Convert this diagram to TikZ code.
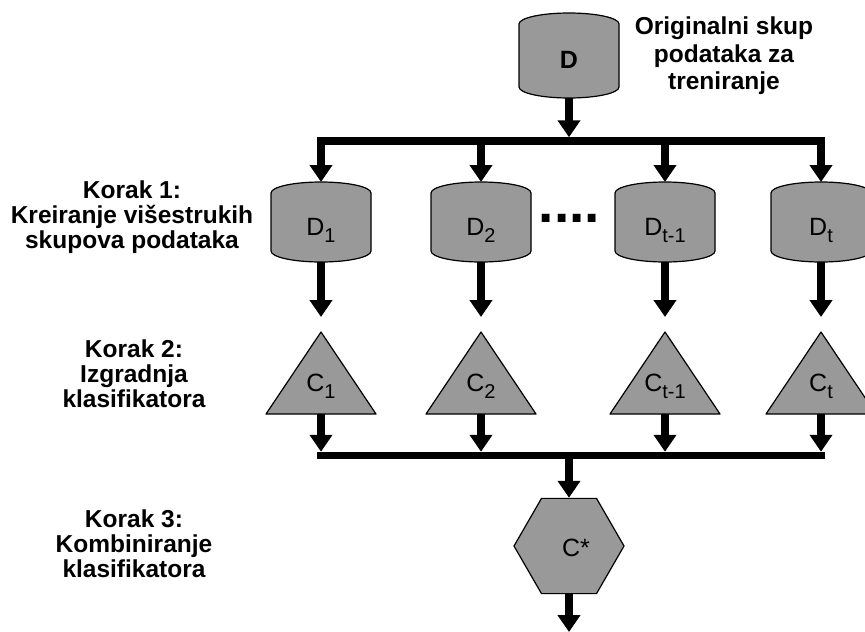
\documentclass[tikz,border=0pt]{standalone}
\usepackage{fontspec}
\setmainfont{Liberation Sans}
\usetikzlibrary{arrows.meta,shapes.geometric}

\tikzset{
  shapefill/.style={fill=black!40, draw=black, line width=1.2pt, line join=round},
  flow/.style={line width=7.5pt, -{Triangle[width=22pt,length=17pt]}},
  bus/.style={line width=7.5pt, line cap=rect},
  steplabel/.style={font=\fontsize{24.5}{25}\selectfont\bfseries, align=center, inner sep=0pt},
  itemlabel/.style={font=\fontsize{25}{25}\selectfont, inner sep=0pt},
  hexa/.style={regular polygon, regular polygon sides=6, minimum size=110pt, inner sep=0pt, shapefill}
}

% lowered index, a bit smaller than the letter
\newcommand\lowidx[1]{\raisebox{-7pt}{\fontsize{20}{20}\selectfont #1}}

% data set drum: name, x, rim top y, rim bottom y, text baseline y, text
\newcommand\drum[6]{%
  \filldraw[shapefill] (#2-50,#3) arc[start angle=180,end angle=0,x radius=50pt,y radius=11pt]
    -- (#2+50,#4) arc[start angle=0,end angle=-180,x radius=50pt,y radius=11pt] -- cycle;
  \coordinate (#1-top) at (#2,#3-11);
  \coordinate (#1-bot) at (#2,#4+11);
  \node[itemlabel,anchor=base] (#1) at (#2,#5) {#6};
}

% classifier wedge: name, x, text
\newcommand\wedgeshape[3]{%
  \filldraw[shapefill] (#2-55,414) -- (#2,332) -- (#2+55,414) -- cycle;
  \coordinate (#1-top) at (#2,332);
  \coordinate (#1-bot) at (#2,414);
  \node[itemlabel,anchor=base] (#1) at (#2,391) {#3};
}

\begin{document}
\begin{tikzpicture}[x=1pt,y=-1pt]
\useasboundingbox (0,0) rectangle (865,632);
\clip (0,0) rectangle (865,632);

% original training set
\drum{d}{569}{24}{87}{68}{\textbf{D}}
\node[steplabel,font=\fontsize{24.5}{27.5}\selectfont\bfseries] (orig) at (724,56) {Originalni skup\\podataka za\\treniranje};

% distribution and collection buses
\coordinate (split) at (569,141);
\coordinate (merge) at (569,455.5);
\draw[bus] (321,141) -- (821,141);
\draw[bus] (321,455.5) -- (821,455.5);
\draw[flow,shorten >=3.75pt] (d-bot) -- (split);

% one column per bootstrap sample and classifier
\foreach \x/\n/\s in {321/1/1, 481/2/2, 665/tm/t-1, 821/t/t}{
  \drum{d\n}{\x}{193}{251}{235.5}{D\lowidx{\s}}
  \wedgeshape{c\n}{\x}{C\lowidx{\s}}
  \coordinate (in\n) at (\x,141);
  \coordinate (out\n) at (\x,455.5);
  \draw[flow] (in\n) -- (d\n-top);
  \draw[flow,shorten >=15pt] (d\n-bot) -- (c\n-top);
  \draw[flow,shorten >=3.75pt] (c\n-bot) -- (out\n);
}

% dots between the second and the last but one sample
\node[font=\fontsize{55}{55}\selectfont\bfseries, inner sep=0pt, anchor=base] (dots) at (569.5,222) {....};

% combined classifier
\node[hexa] (cstar) at (569,546) {};
\node[itemlabel,anchor=base] (cstar-text) at (576,556) {C*};
\coordinate (result) at (569,632);
\draw[flow] (merge) -- (cstar.north);
\draw[flow] (cstar.south) -- (result);

% step captions
\node[steplabel] (step1) at (132,217) {Korak 1:\\Kreiranje višestrukih\\skupova podataka};
\node[steplabel] (step2) at (134,374) {Korak 2:\\Izgradnja\\klasifikatora};
\node[steplabel] (step3) at (134,544) {Korak 3:\\Kombiniranje\\klasifikatora};
\end{tikzpicture}
\end{document}
